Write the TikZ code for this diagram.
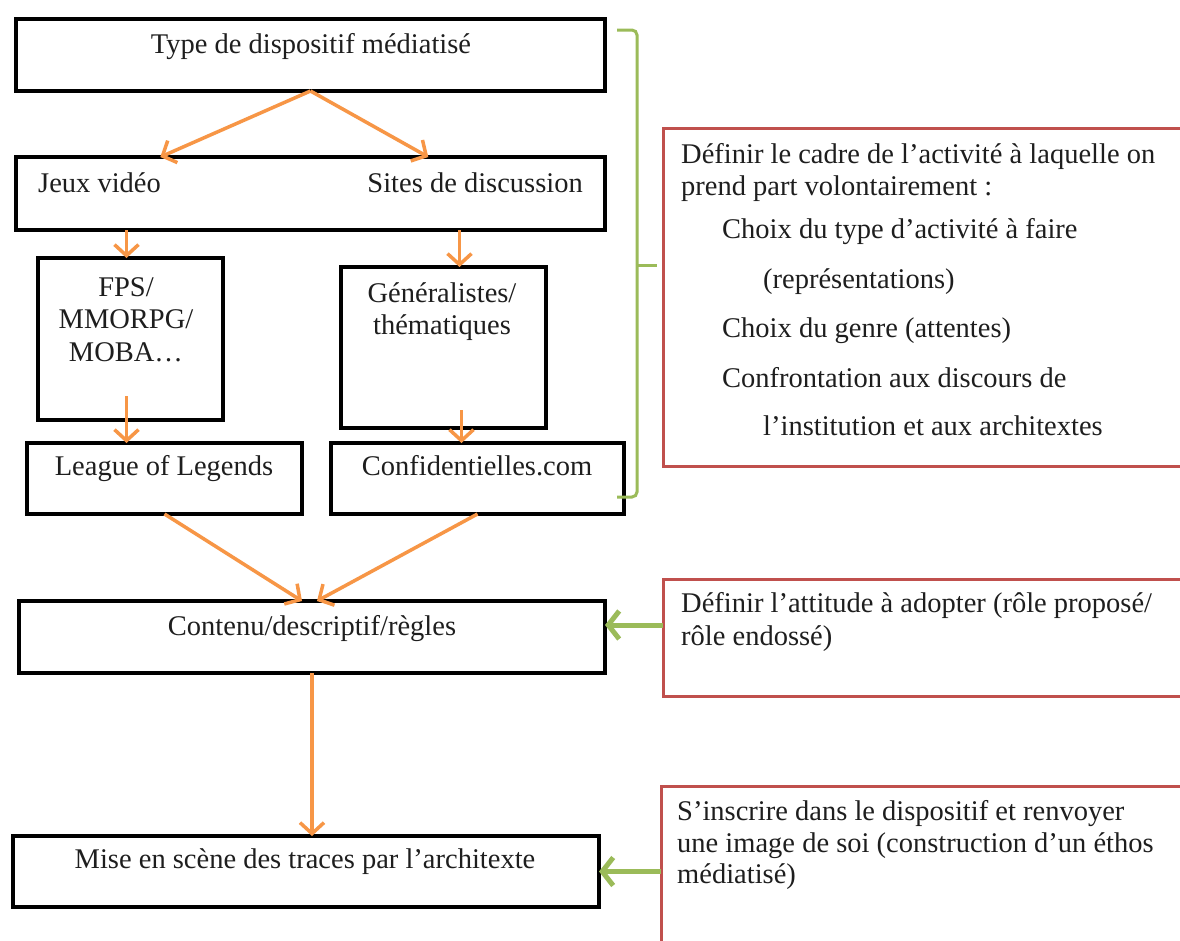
\documentclass[tikz,border=0pt]{standalone}
\usepackage{fontspec}
\setmainfont{Liberation Serif}
\usetikzlibrary{arrows.meta,calc}
\definecolor{orng}{HTML}{F79646}
\definecolor{grn}{HTML}{9BBB59}
\definecolor{redb}{HTML}{C0504D}
\definecolor{ink}{HTML}{1E1E1E}
\begin{document}
\begin{tikzpicture}[x=1pt,y=-1pt,
  bbox/.style={draw=black, line width=3.5pt, anchor=north west, inner sep=0pt, outer sep=0pt},
  rbox/.style={draw=redb, line width=3pt, anchor=north west, inner sep=0pt, outer sep=0pt},
  txt/.style={font=\fontsize{28.5}{35}\selectfont, inner sep=0pt, text=ink},
  oarrow/.style={draw=orng, line width=3.5pt, -{Straight Barb[length=11pt,width=24pt]}},
  garrow/.style={draw=grn, line width=5pt, -{Straight Barb[length=11pt,width=28pt]}},
  gbr/.style={draw=grn, line width=3pt}]

\clip (0,0) rectangle (1180,940);
\fill[white] (0,0) rectangle (1180,940);

% black boxes
\node[bbox, minimum width=589pt, minimum height=72pt] (b1) at (16,19) {};
\node[bbox, minimum width=589pt, minimum height=73pt] (b2) at (16,157) {};
\node[bbox, minimum width=185pt, minimum height=162pt] (fps) at (38,258) {};
\node[bbox, minimum width=205pt, minimum height=161pt] (gen) at (341,267) {};
\node[bbox, minimum width=275pt, minimum height=71pt] (league) at (27,443) {};
\node[bbox, minimum width=293pt, minimum height=71pt] (conf) at (331,443) {};
\node[bbox, minimum width=586pt, minimum height=72pt] (cont) at (19,601) {};
\node[bbox, minimum width=586pt, minimum height=71pt] (mise) at (13,836) {};

% red boxes
\node[rbox, minimum width=530pt, minimum height=338pt] (r1) at (663,128) {};
\node[rbox, minimum width=530pt, minimum height=117pt] (r2) at (663,579) {};
\node[rbox, minimum width=530pt, minimum height=170pt] (r3) at (661,786) {};

% texts in black boxes
\node[txt, anchor=base] (t1) at (311,53) {Type de dispositif médiatisé};
\node[txt, anchor=base west] (tj) at (38,192) {Jeux vidéo};
\node[txt, anchor=base east] (ts) at (583,192) {Sites de discussion};
\node[txt, anchor=base] (tf1) at (126,296) {FPS/};
\node[txt, anchor=base] (tf2) at (126,328) {MMORPG/};
\node[txt, anchor=base] (tf3) at (126,361) {MOBA…};
\node[txt, anchor=base] (tg1) at (442,302) {Généralistes/};
\node[txt, anchor=base] (tg2) at (442,334) {thématiques};
\node[txt, anchor=base] (tl) at (164,475) {League of Legends};
\node[txt, anchor=base] (tc) at (477,475) {Confidentielles.com};
\node[txt, anchor=base] (tco) at (312,635) {Contenu/descriptif/règles};
\node[txt, anchor=base] (tm) at (305,868) {Mise en scène des traces par l’architexte};

% texts in red boxes
\node[txt, anchor=base west] (r1a) at (681,163) {Définir le cadre de l’activité à laquelle on};
\node[txt, anchor=base west] (r1b) at (681,195) {prend part volontairement~:};
\node[txt, anchor=base west] (r1c) at (722,238) {Choix du type d’activité à faire};
\node[txt, anchor=base west] (r1d) at (763,288) {(représentations)};
\node[txt, anchor=base west] (r1e) at (722,337) {Choix du genre (attentes)};
\node[txt, anchor=base west] (r1f) at (722,387) {Confrontation aux discours de};
\node[txt, anchor=base west] (r1g) at (763,435) {l’institution et aux architextes};
\node[txt, anchor=base west] (r2a) at (681,612) {Définir l’attitude à adopter (rôle proposé/};
\node[txt, anchor=base west] (r2b) at (681,645) {rôle endossé)};
\node[txt, anchor=base west] (r3a) at (677,820) {S’inscrire dans le dispositif et renvoyer};
\node[txt, anchor=base west] (r3b) at (677,852) {une image de soi (construction d’un éthos};
\node[txt, anchor=base west] (r3c) at (677,883) {médiatisé)};

% orange connectors
\draw[oarrow] (b1.south) -- ($(b2.north west)!0.245!(b2.north east)$);
\draw[oarrow] (b1.south) -- ($(b2.north west)!0.70!(b2.north east)$);
\draw[oarrow] ([xshift=-4pt]fps.north |- b2.south) -- ([xshift=-4pt]fps.north);
\draw[oarrow] ([xshift=16pt]gen.north |- b2.south) -- ([xshift=16pt]gen.north);
\draw[oarrow] ([xshift=-4pt,yshift=24pt]fps.south) -- ([xshift=-4pt]fps.south |- league.north);
\draw[oarrow] ([xshift=18pt,yshift=18pt]gen.south) -- ([xshift=18pt]gen.south |- conf.north);
\draw[oarrow] (league.south) -- ([xshift=-10pt]cont.north);
\draw[oarrow] (conf.south) -- ([xshift=5pt]cont.north);
\draw[oarrow] (cont.south) -- (cont.south |- mise.north);

% green connectors
\coordinate (gA) at ([yshift=12pt]cont.east);
\draw[garrow] (gA -| r2.west) -- (gA);
\draw[garrow] (mise.east -| r3.west) -- (mise.east);

% green bracket
\coordinate (brT) at (617,30);
\coordinate (brB) at (617,497);
\coordinate (brM) at (657,265);
\draw[gbr, rounded corners=5pt] (brT) -- ++(20,0) -- (637,497) -- (brB);
\draw[gbr] (637,265) -- (brM);
\end{tikzpicture}
\end{document}
